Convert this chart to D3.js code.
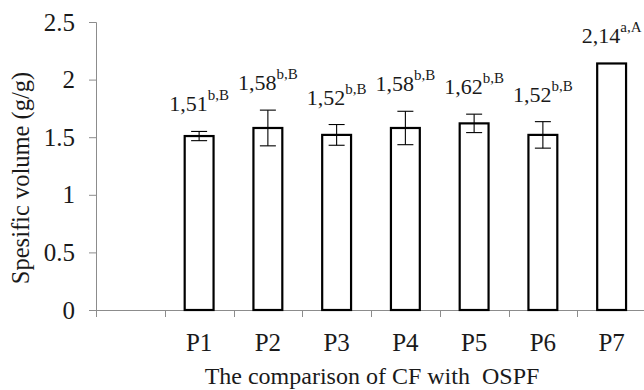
<!DOCTYPE html>
<html>
<head>
<meta charset="utf-8">
<script src="https://cdn.jsdelivr.net/npm/d3@7/dist/d3.min.js"></script>
<style>
  html, body { margin: 0; padding: 0; background: #fff; }
  svg { display: block; }
</style>
</head>
<body>
<svg id="chart" width="644" height="390"></svg>
<script>
// Specific volume of the breads, P1–P7
const categories = ["P1", "P2", "P3", "P4", "P5", "P6", "P7"];
const means      = [1.51, 1.58, 1.52, 1.58, 1.62, 1.52, 2.14];
const errors     = [0.04, 0.155, 0.09, 0.145, 0.08, 0.115, null];
const letters    = ["b,B", "b,B", "b,B", "b,B", "b,B", "b,B", "a,A"];
const yTicks     = [0, 0.5, 1, 1.5, 2, 2.5];
const yTickLabels = ["0", "0.5", "1", "1.5", "2", "2.5"];

const SERIF = "Liberation Serif";
const svg = d3.select("#chart");
const W = 644, H = 390;
const plot = { left: 96, right: 646, top: 22, bottom: 310 };
const axisColor = "#8c8c8c";

// the first slot is left empty, as on the original axis
const slots = [""].concat(categories);
const x = d3.scaleBand().domain(slots).range([plot.left, plot.right]).padding(0);
const y = d3.scaleLinear().domain([0, 2.5]).range([plot.bottom, plot.top]);
const barW = x.bandwidth() * 0.42;
const cx = c => x(c) + x.bandwidth() / 2;

// y axis
const yAxis = d3.axisLeft(y).tickValues(yTicks)
  .tickFormat((d, i) => yTickLabels[i]).tickSizeInner(7).tickSizeOuter(7).tickPadding(14);
const gy = svg.append("g").attr("transform", `translate(${plot.left},0)`).call(yAxis);
gy.attr("font-family", null);
gy.select(".domain").attr("stroke", axisColor);
gy.selectAll(".tick line").attr("stroke", axisColor);
gy.selectAll(".tick text").attr("font-size", 25);

// x axis: ticks sit on the band boundaries
const xAxisLine = svg.append("g");
xAxisLine.append("line")
  .attr("x1", plot.left).attr("x2", W)
  .attr("y1", y(0) + 0.5).attr("y2", y(0) + 0.5)
  .attr("stroke", axisColor);
xAxisLine.selectAll("line.tk").data(slots).join("line").attr("class", "tk")
  .attr("x1", d => Math.round(x(d)) + 0.5).attr("x2", d => Math.round(x(d)) + 0.5)
  .attr("y1", y(0)).attr("y2", y(0) + 7)
  .attr("stroke", axisColor);
svg.append("g").selectAll("text").data(categories).join("text")
  .attr("x", d => cx(d)).attr("y", 351)
  .attr("text-anchor", "middle").attr("font-size", 25)
  .text(d => d);

// bars
svg.append("g").selectAll("rect").data(categories).join("rect")
  .attr("x", d => cx(d) - barW / 2)
  .attr("y", (d, i) => y(means[i]))
  .attr("width", barW)
  .attr("height", (d, i) => y(0) - y(means[i]))
  .attr("fill", "#fff").attr("stroke", "#000").attr("stroke-width", 2.2);

// error bars
const capW = 16;
const eb = svg.append("g").attr("stroke", "#000").attr("stroke-width", 1.1);
categories.forEach((c, i) => {
  if (errors[i] == null) return;
  const hi = y(means[i] + errors[i]), lo = y(means[i] - errors[i]), xc = cx(c);
  eb.append("line").attr("x1", xc).attr("x2", xc).attr("y1", hi).attr("y2", lo);
  eb.append("line").attr("x1", xc - capW / 2).attr("x2", xc + capW / 2).attr("y1", hi).attr("y2", hi);
  eb.append("line").attr("x1", xc - capW / 2).attr("x2", xc + capW / 2).attr("y1", lo).attr("y2", lo);
});

// value labels with significance letters
const fmt = v => d3.format(".2f")(v).replace(".", ",");
const labels = svg.append("g").selectAll("text").data(categories).join("text")
  .attr("x", d => cx(d))
  .attr("y", (d, i) => y(means[i] + (errors[i] || 0)) - 20)
  .attr("text-anchor", "middle").attr("font-size", 22);
labels.append("tspan").text((d, i) => fmt(means[i]));
labels.append("tspan").attr("dy", -11).attr("font-size", 15).text((d, i) => letters[i]);

// axis titles
svg.append("text")
  .attr("transform", `translate(29,${(plot.top + plot.bottom) / 2 + 12}) rotate(-90)`)
  .attr("text-anchor", "middle").attr("font-size", 24.5)
  .text("Spesific volume (g/g)");
svg.append("text")
  .attr("x", 372).attr("y", 384)
  .attr("text-anchor", "middle").attr("font-size", 24)
  .style("white-space", "pre")
  .text("The comparison of CF with  OSPF");

// all text in a Times-like serif
svg.selectAll("text").attr("font-family", SERIF).attr("fill", "#1a1a1a");
</script>
</body>
</html>
